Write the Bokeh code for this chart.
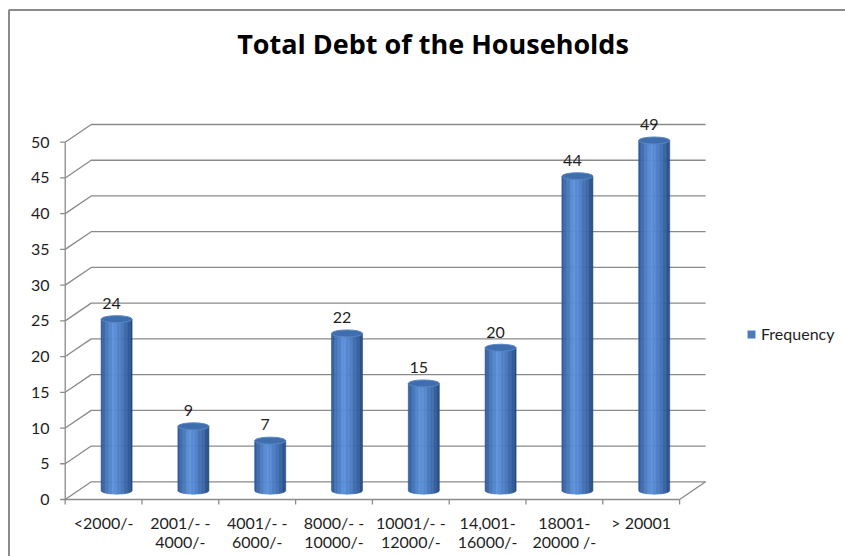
import numpy as np
from bokeh.plotting import figure
from bokeh.models import Range1d, Legend, LegendItem, Label
from bokeh.core.properties import value
from bokeh.embed import file_html
from bokeh.resources import INLINE

# ---------------- data ----------------
title_text = "Total Debt of the Households"
categories = ["<2000/-", "2001/- -\n4000/-", "4001/- -\n6000/-", "8000/- -\n10000/-",
              "10001/- -\n12000/-", "14,001-\n16000/-", "18001-\n20000 /-", "> 20001"]
frequency = [24, 9, 7, 22, 15, 20, 44, 49]
series_name = "Frequency"
y_ticks = [0, 5, 10, 15, 20, 25, 30, 35, 40, 45, 50]

# ---------------- geometry / style ----------------
W, H = 845, 556
AX_X, CAT_PX = 64.7, 76.8      # front-plane x origin (px) and px per category
AX_Y, UNIT_PX = 499.0, 7.146   # front-plane y origin (px) and px per value unit
FONT = "Lato"
TXT = "#1e1e1e"
GRID = "#8a8a8a"

def ux(px):
    return (px - AX_X) / CAT_PX

def uy(py):
    return (AX_Y - py) / UNIT_PX

def dxu(px):
    return px / CAT_PX

def dyu(px):
    return px / UNIT_PX

DEPTH_X = dxu(26.0)
DEPTH_Y = dyu(17.7)
n = len(categories)

p = figure(width=W, height=H, x_range=Range1d(ux(0), ux(W)), y_range=Range1d(uy(H), uy(0)),
           output_backend="svg", toolbar_location=None, min_border=0,
           x_axis_location=None, y_axis_location=None)
p.grid.visible = False
p.outline_line_color = None
p.background_fill_color = "white"
p.border_fill_color = "white"

# chart-area border (top and left edges visible)
p.line(x=[ux(8.5), ux(8.5), ux(W + 5)], y=[uy(H + 5), uy(9.5), uy(9.5)],
       line_color="#8c8c8c", line_width=2)

# gridlines on side wall + back wall
gx = [[0, DEPTH_X, n + DEPTH_X] for t in y_ticks]
gy = [[t, t + DEPTH_Y, t + DEPTH_Y] for t in y_ticks]
p.multi_line(xs=gx, ys=gy, line_color=GRID, line_width=1.3)

# axes lines
top_tick = max(y_ticks)
p.line(x=[0, 0], y=[0, top_tick], line_color=GRID, line_width=1.3)
p.line(x=[0, n], y=[0, 0], line_color=GRID, line_width=1.3)
p.line(x=[n, n + DEPTH_X], y=[0, DEPTH_Y], line_color=GRID, line_width=1.3)

# tick marks
p.segment(x0=[-dxu(5)] * len(y_ticks), y0=y_ticks, x1=[0] * len(y_ticks), y1=y_ticks,
          line_color=GRID, line_width=1.3)
bx = list(range(n + 1))
p.segment(x0=bx, y0=[0] * len(bx), x1=bx, y1=[-dyu(5)] * len(bx),
          line_color=GRID, line_width=1.3)

# tick labels
p.text(x=[ux(49)] * len(y_ticks), y=y_ticks, text=[str(t) for t in y_ticks],
       text_align="right", text_baseline="middle", text_font=value(FONT),
       text_font_size="16px", text_color=TXT)
p.text(x=[i + 0.5 for i in range(n)], y=[uy(512)] * n, text=categories,
       text_align="center", text_baseline="top", text_font=value(FONT),
       text_font_size="16px", text_color=TXT, text_line_height=1.05)

# ---------------- cylinders ----------------
stops = [(0.0, (46, 86, 146)), (0.12, (62, 108, 172)), (0.38, (92, 145, 218)),
         (0.55, (84, 134, 205)), (0.85, (56, 100, 164)), (1.0, (38, 72, 126))]

def shade(t):
    for (t0, c0), (t1, c1) in zip(stops[:-1], stops[1:]):
        if t0 <= t <= t1:
            f = (t - t0) / (t1 - t0)
            c = [int(round(a + (b - a) * f)) for a, b in zip(c0, c1)]
            return "#%02x%02x%02x" % tuple(c)
    return "#%02x%02x%02x" % stops[-1][1]

half_w = dxu(15.5)
half_h = dyu(3.5)
N = 22
sx, sy, sc = [], [], []
cx_list, top_list = [], []
for i, f in enumerate(frequency):
    cx = i + 0.5 + DEPTH_X / 2
    base = DEPTH_Y / 2
    top = f + DEPTH_Y / 2
    cx_list.append(cx)
    top_list.append(top)
    for k in range(N):
        xl = cx - half_w + 2 * half_w * k / N
        xr = cx - half_w + 2 * half_w * (k + 1) / N
        xs_b = np.linspace(xl, xr, 4)
        ys_b = base - half_h * np.sqrt(np.clip(1 - ((xs_b - cx) / half_w) ** 2, 0, 1))
        sx.append(list(xs_b) + [xr, xl])
        sy.append(list(ys_b) + [top, top])
        sc.append(shade((k + 0.5) / N))

p.patches(xs=sx, ys=sy, fill_color=sc, line_color=sc, line_width=0.6)
p.ellipse(x=cx_list, y=top_list, width=2 * half_w, height=2 * half_h,
          fill_color="#3f6eae", line_color="#5a86c2", line_width=1)

# data labels
p.text(x=[c - dxu(5) for c in cx_list], y=[t + dyu(15.7) for t in top_list],
       text=[str(f) for f in frequency], text_align="center", text_baseline="alphabetic",
       text_font=value(FONT), text_font_size="16px", text_color=TXT)

# legend
swatch = p.quad(left=[np.nan], right=[np.nan], top=[np.nan], bottom=[np.nan],
                fill_color="#4a7ebb", line_color=None)
legend = Legend(items=[LegendItem(label=series_name, renderers=[swatch])],
                location=(746, H - 343), glyph_width=10, glyph_height=10, label_height=10,
                label_standoff=5, padding=0, margin=0, spacing=0,
                border_line_color=None, background_fill_alpha=0,
                label_text_font=FONT, label_text_font_size="16px", label_text_color=TXT)
p.add_layout(legend)

# title
p.add_layout(Label(x=432.5, y=H - 43, x_units="screen", y_units="screen", text=title_text,
                   text_align="center", text_baseline="alphabetic", text_font="Open Sans",
                   text_font_style="bold", text_font_size="27px", text_color="#000000"))

open("out.html", "w").write(file_html(p, INLINE))
